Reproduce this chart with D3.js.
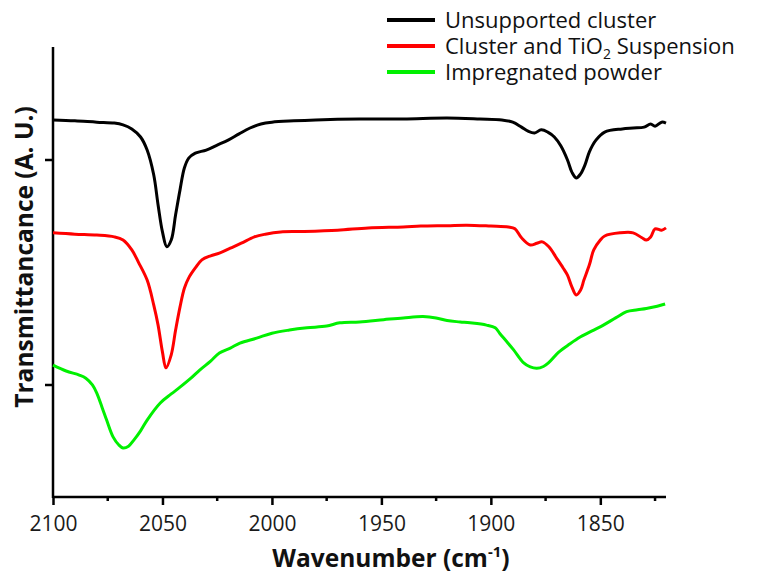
<!DOCTYPE html>
<html>
<head>
<meta charset="utf-8">
<script src="https://cdn.jsdelivr.net/npm/d3@7"></script>
<style>
  html, body { margin: 0; padding: 0; background: #fff; }
  svg { display: block; font-family: "Open Sans", "DejaVu Sans", sans-serif; }
</style>
</head>
<body>
<div id="chart"></div>
<script>
// IR spectra, transmittance in arbitrary units (0-100 scale), wavenumber in cm-1
const unsupported = [
  [2100, 83.8], [2090, 83.6], [2080, 83.3], [2072, 83.1], [2068, 82.7], [2064, 81.8],
  [2060, 80.0], [2057, 77.1], [2054, 71.6], [2052, 64.9], [2050, 58.9], [2048, 55.6],
  [2046, 57.1], [2044, 62.7], [2042, 68.2], [2040, 73.1], [2038, 75.3], [2035, 76.4],
  [2030, 77.1], [2025, 78.2], [2020, 79.3], [2015, 80.7], [2010, 82.0], [2005, 82.9],
  [2000, 83.3], [1990, 83.6], [1980, 83.8], [1960, 84.0], [1940, 84.0], [1920, 84.2],
  [1905, 84.0], [1895, 83.8], [1890, 83.3], [1886, 82.2], [1883, 81.3], [1880, 80.9],
  [1877, 81.6], [1874, 81.1], [1871, 80.0], [1868, 78.0], [1865, 74.9], [1863, 72.2],
  [1861, 70.9], [1859, 71.8], [1857, 73.8], [1855, 76.7], [1852, 79.3], [1848, 81.1],
  [1840, 81.8], [1835, 82.0], [1830, 82.2], [1827, 82.9], [1825, 82.4], [1822, 83.3],
  [1820, 83.1]
];
const suspension = [
  [2100, 58.7], [2090, 58.4], [2080, 58.2], [2072, 57.8], [2068, 57.1], [2064, 54.9],
  [2061, 52.2], [2057, 48.2], [2054, 42.7], [2052, 38.2], [2050, 32.2], [2048.4, 28.7],
  [2046, 31.6], [2044, 37.1], [2042, 42.2], [2040, 46.4], [2038, 48.7], [2035, 50.9],
  [2032, 52.7], [2028, 53.6], [2024, 54.2], [2019, 55.3], [2014, 56.4], [2008, 57.8],
  [2003, 58.4], [1996, 58.9], [1987, 59.0], [1970, 59.3], [1956, 59.8], [1940, 60.0],
  [1932, 60.2], [1920, 60.3], [1911, 60.4], [1900, 60.2], [1892, 60.0], [1889, 59.6],
  [1886, 57.6], [1882, 56.0], [1879, 56.4], [1876.5, 56.7], [1873.5, 55.6], [1870, 53.1],
  [1867, 50.9], [1865, 49.3], [1863, 46.7], [1861, 44.9], [1859, 46.0], [1857.5, 48.2],
  [1855, 51.6], [1853, 54.9], [1850, 57.1], [1848, 58.0], [1841, 58.7], [1835, 58.7],
  [1831, 57.6], [1829, 57.1], [1827, 57.8], [1825, 59.6], [1822, 59.3], [1820, 59.8]
];
const powder = [
  [2100, 29.3], [2094, 28.0], [2088, 27.1], [2085, 26.4], [2082, 24.9], [2080, 23.1],
  [2077.5, 19.8], [2075.5, 17.1], [2072.5, 13.3], [2070, 11.6], [2068, 10.9], [2065.5, 11.3],
  [2063, 12.7], [2060, 14.7], [2057, 17.1], [2051, 20.9], [2046, 22.9], [2042, 24.4],
  [2037, 26.4], [2033, 28.2], [2028, 30.2], [2024, 32.0], [2019, 33.1], [2014.6, 34.2],
  [2007, 35.3], [2000, 36.4], [1992, 37.1], [1984, 37.6], [1975, 38.0], [1969, 38.7],
  [1960, 38.9], [1949, 39.4], [1940, 39.8], [1931, 40.1], [1925, 39.8], [1920, 39.2],
  [1914, 38.9], [1909.5, 38.7], [1902, 38.2], [1898, 37.6], [1896, 36.4], [1892.5, 34.4],
  [1889.6, 32.7], [1885, 29.8], [1882, 28.9], [1879, 28.6], [1876, 29.0], [1873.7, 29.8],
  [1869, 32.2], [1864, 34.0], [1859, 35.6], [1853, 37.1], [1848.6, 38.2], [1843, 39.8],
  [1838, 41.2], [1833, 41.6], [1829, 41.9], [1824, 42.4], [1820.4, 42.9]
];

const seriesNames = ["Unsupported cluster", "Cluster and TiO2 Suspension", "Impregnated powder"];
const seriesColors = ["#000000", "#ff0000", "#00f000"];
const xMajorTicks = [2100, 2050, 2000, 1950, 1900, 1850];
const xMinorTicks = [2075, 2025, 1975, 1925, 1875, 1825];
const yTicks = [25, 75];

const W = 780, H = 576;
const m = { top: 47, right: 114, bottom: 79, left: 53 };

const svg = d3.select("#chart").append("svg").attr("width", W).attr("height", H);

const x = d3.scaleLinear().domain([2100, 1820]).range([m.left, W - m.right]);
const y = d3.scaleLinear().domain([0, 100]).range([H - m.bottom, m.top]);

// axes
const xAxis = svg.append("g").attr("transform", `translate(0,${H - m.bottom})`)
  .call(d3.axisBottom(x).tickValues(xMajorTicks).tickFormat(d3.format("d")).tickSize(8).tickPadding(11));
xAxis.append("g").selectAll("line").data(xMinorTicks).enter().append("line")
  .attr("x1", d => x(d)).attr("x2", d => x(d)).attr("y1", 0).attr("y2", 4)
  .attr("stroke", "#000").attr("stroke-width", 2.5);

const yAxis = svg.append("g").attr("transform", `translate(${m.left},0)`)
  .call(d3.axisLeft(y).tickValues(yTicks).tickFormat("").tickSize(8));

[xAxis, yAxis].forEach(g => {
  g.select(".domain").remove();
  g.selectAll(".tick line").attr("stroke-width", 2.5);
});
svg.append("line").attr("x1", m.left).attr("x2", W - m.right)
  .attr("y1", H - m.bottom).attr("y2", H - m.bottom)
  .attr("stroke", "#000").attr("stroke-width", 2.5);
svg.append("line").attr("x1", m.left).attr("x2", m.left)
  .attr("y1", m.top).attr("y2", H - m.bottom + 1)
  .attr("stroke", "#000").attr("stroke-width", 2.5);

xAxis.selectAll(".tick text").attr("font-size", 21).attr("fill", "#1a1a1a")
  .attr("font-family", "'Open Sans', sans-serif");

// spectra
const line = d3.line().x(d => x(d[0])).y(d => y(d[1])).curve(d3.curveCatmullRom.alpha(0.5));
[unsupported, suspension, powder].forEach((s, i) => {
  svg.append("path").datum(s).attr("d", line)
    .attr("fill", "none").attr("stroke", seriesColors[i])
    .attr("stroke-width", 3).attr("stroke-linejoin", "round");
});

// axis titles
const xt = svg.append("text").attr("x", 391).attr("y", 567).attr("text-anchor", "middle")
  .attr("font-size", 24.5).attr("font-weight", "bold").attr("fill", "#111");
xt.append("tspan").text("Wavenumber (cm");
xt.append("tspan").attr("dy", -10).attr("font-size", 15).text("-1");
xt.append("tspan").attr("dy", 10).text(")");

svg.append("text").attr("transform", "translate(33,257) rotate(-90)")
  .attr("text-anchor", "middle").attr("font-size", 24.5).attr("font-weight", "bold")
  .attr("fill", "#111").text("Transmittancance (A. U.)");

// legend
const leg = svg.append("g").attr("transform", "translate(387,20)");
seriesNames.forEach((name, i) => {
  const g = leg.append("g").attr("transform", `translate(0,${i * 26})`);
  g.append("line").attr("x1", 0).attr("x2", 48).attr("y1", 0).attr("y2", 0)
    .attr("stroke", seriesColors[i]).attr("stroke-width", 4);
  const t = g.append("text").attr("x", 58).attr("y", 8).attr("font-size", 22).attr("fill", "#111");
  if (name.includes("TiO2")) {
    t.append("tspan").text("Cluster and TiO");
    t.append("tspan").attr("dy", 5).attr("font-size", 14).text("2");
    t.append("tspan").attr("dy", -5).text(" Suspension");
  } else {
    t.text(name);
  }
});
</script>
</body>
</html>
